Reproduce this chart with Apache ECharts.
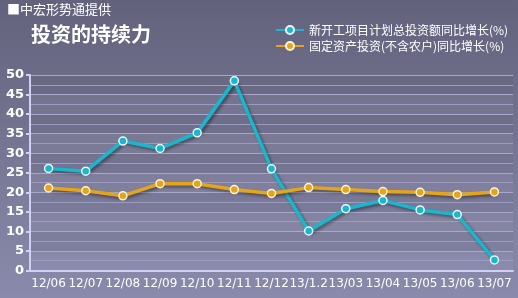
<!DOCTYPE html>
<html><head><meta charset="utf-8">
<script src="https://cdn.jsdelivr.net/npm/echarts@6/dist/echarts.min.js"></script>
<style>html,body{margin:0;padding:0;}#c{width:518px;height:298px;}</style>
</head><body><div id="c"></div>
<script>
var categories = ['12/06','12/07','12/08','12/09','12/10','12/11','12/12','13/1.2','13/03','13/04','13/05','13/06','13/07'];
var newProjects = [26.1, 25.4, 33.1, 31.2, 35.2, 48.5, 26.0, 10.1, 15.8, 17.9, 15.5, 14.3, 2.7];
var fixedAsset = [21.1, 20.4, 19.1, 22.2, 22.2, 20.7, 19.7, 21.2, 20.7, 20.2, 20.0, 19.4, 20.1];
var seriesNames = ['新开工项目计划总投资额同比增长(%)', '固定资产投资(不含农户)同比增长(%)'];
var titleText = '投资的持续力';
var sourceText = '■中宏形势通提供';

var font = '"Noto Sans CJK SC", "DejaVu Sans", sans-serif';
var chart = echarts.init(document.getElementById('c'));
chart.setOption({
  backgroundColor: new echarts.graphic.LinearGradient(0,0,0,1,[{offset:0,color:'#62627c'},{offset:1,color:'#8a8aac'}]),
  animation: false,
  title: [
    {text: sourceText, left: 2, top: -2, textStyle:{color:'#ffffff', fontSize:13, fontWeight:'normal', fontFamily:font}},
    {text: titleText, left: 26, top: 19, textStyle:{color:'#ffffff', fontSize:20, fontWeight:'bold', fontFamily:font}}
  ],
  legend: {
    orient: 'vertical', left: 270, top: 19, itemGap: 4, itemWidth: 28, itemHeight: 10,
    textStyle: {color:'#ffffff', fontSize: 12, fontFamily: font},
    data: seriesNames
  },
  grid: {left: 30, right: 5, top: 75, bottom: 27.5},
  xAxis: {
    type: 'category', data: categories, boundaryGap: true,
    axisLine: {lineStyle:{color:'#d0d0f4', width:2}},
    axisTick: {lineStyle:{color:'#d0d0f4', width:2}, length:4},
    axisLabel: {color:'#ffffff', fontSize: 12, fontFamily:'"DejaVu Sans", sans-serif', margin: 7, interval: 0}
  },
  yAxis: {
    type: 'value', min: 0, max: 50, interval: 5,
    axisLine: {show:true, lineStyle:{color:'#d0d0f4', width:2}},
    axisTick: {show:true, lineStyle:{color:'#d0d0f4', width:2}, length:4},
    axisLabel: {color:'#ffffff', fontSize: 13, fontWeight:'bold', fontFamily:'"DejaVu Sans", sans-serif', margin: 6},
    splitLine: {show:true, lineStyle:{color:'#a8a8cc', width:1}},
    minorTick: {show:false, splitNumber:2},
    minorSplitLine: {show:true, lineStyle:{color:'#9c9cc0', width:1}},
    splitArea: {show:true, areaStyle:{color:['rgba(255,255,255,0.04)','rgba(0,0,0,0.03)']}}
  },
  series: [
    {
      name: seriesNames[0], type: 'line', data: newProjects,
      symbol: 'circle', symbolSize: 8, showAllSymbol: true,
      lineStyle: {color:'#1ab6cc', width: 3.5, shadowColor:'rgba(0,0,0,0.4)', shadowBlur:3, shadowOffsetX:2, shadowOffsetY:2},
      itemStyle: {color:'#1ab6cc', borderColor:'#e8f8ff', borderWidth:1.5}
    },
    {
      name: seriesNames[1], type: 'line', data: fixedAsset,
      symbol: 'circle', symbolSize: 8, showAllSymbol: true,
      lineStyle: {color:'#e4a51a', width: 3.5, shadowColor:'rgba(0,0,0,0.4)', shadowBlur:3, shadowOffsetX:2, shadowOffsetY:2},
      itemStyle: {color:'#e4a51a', borderColor:'#fff4d8', borderWidth:1.5}
    }
  ]
});
</script></body></html>
